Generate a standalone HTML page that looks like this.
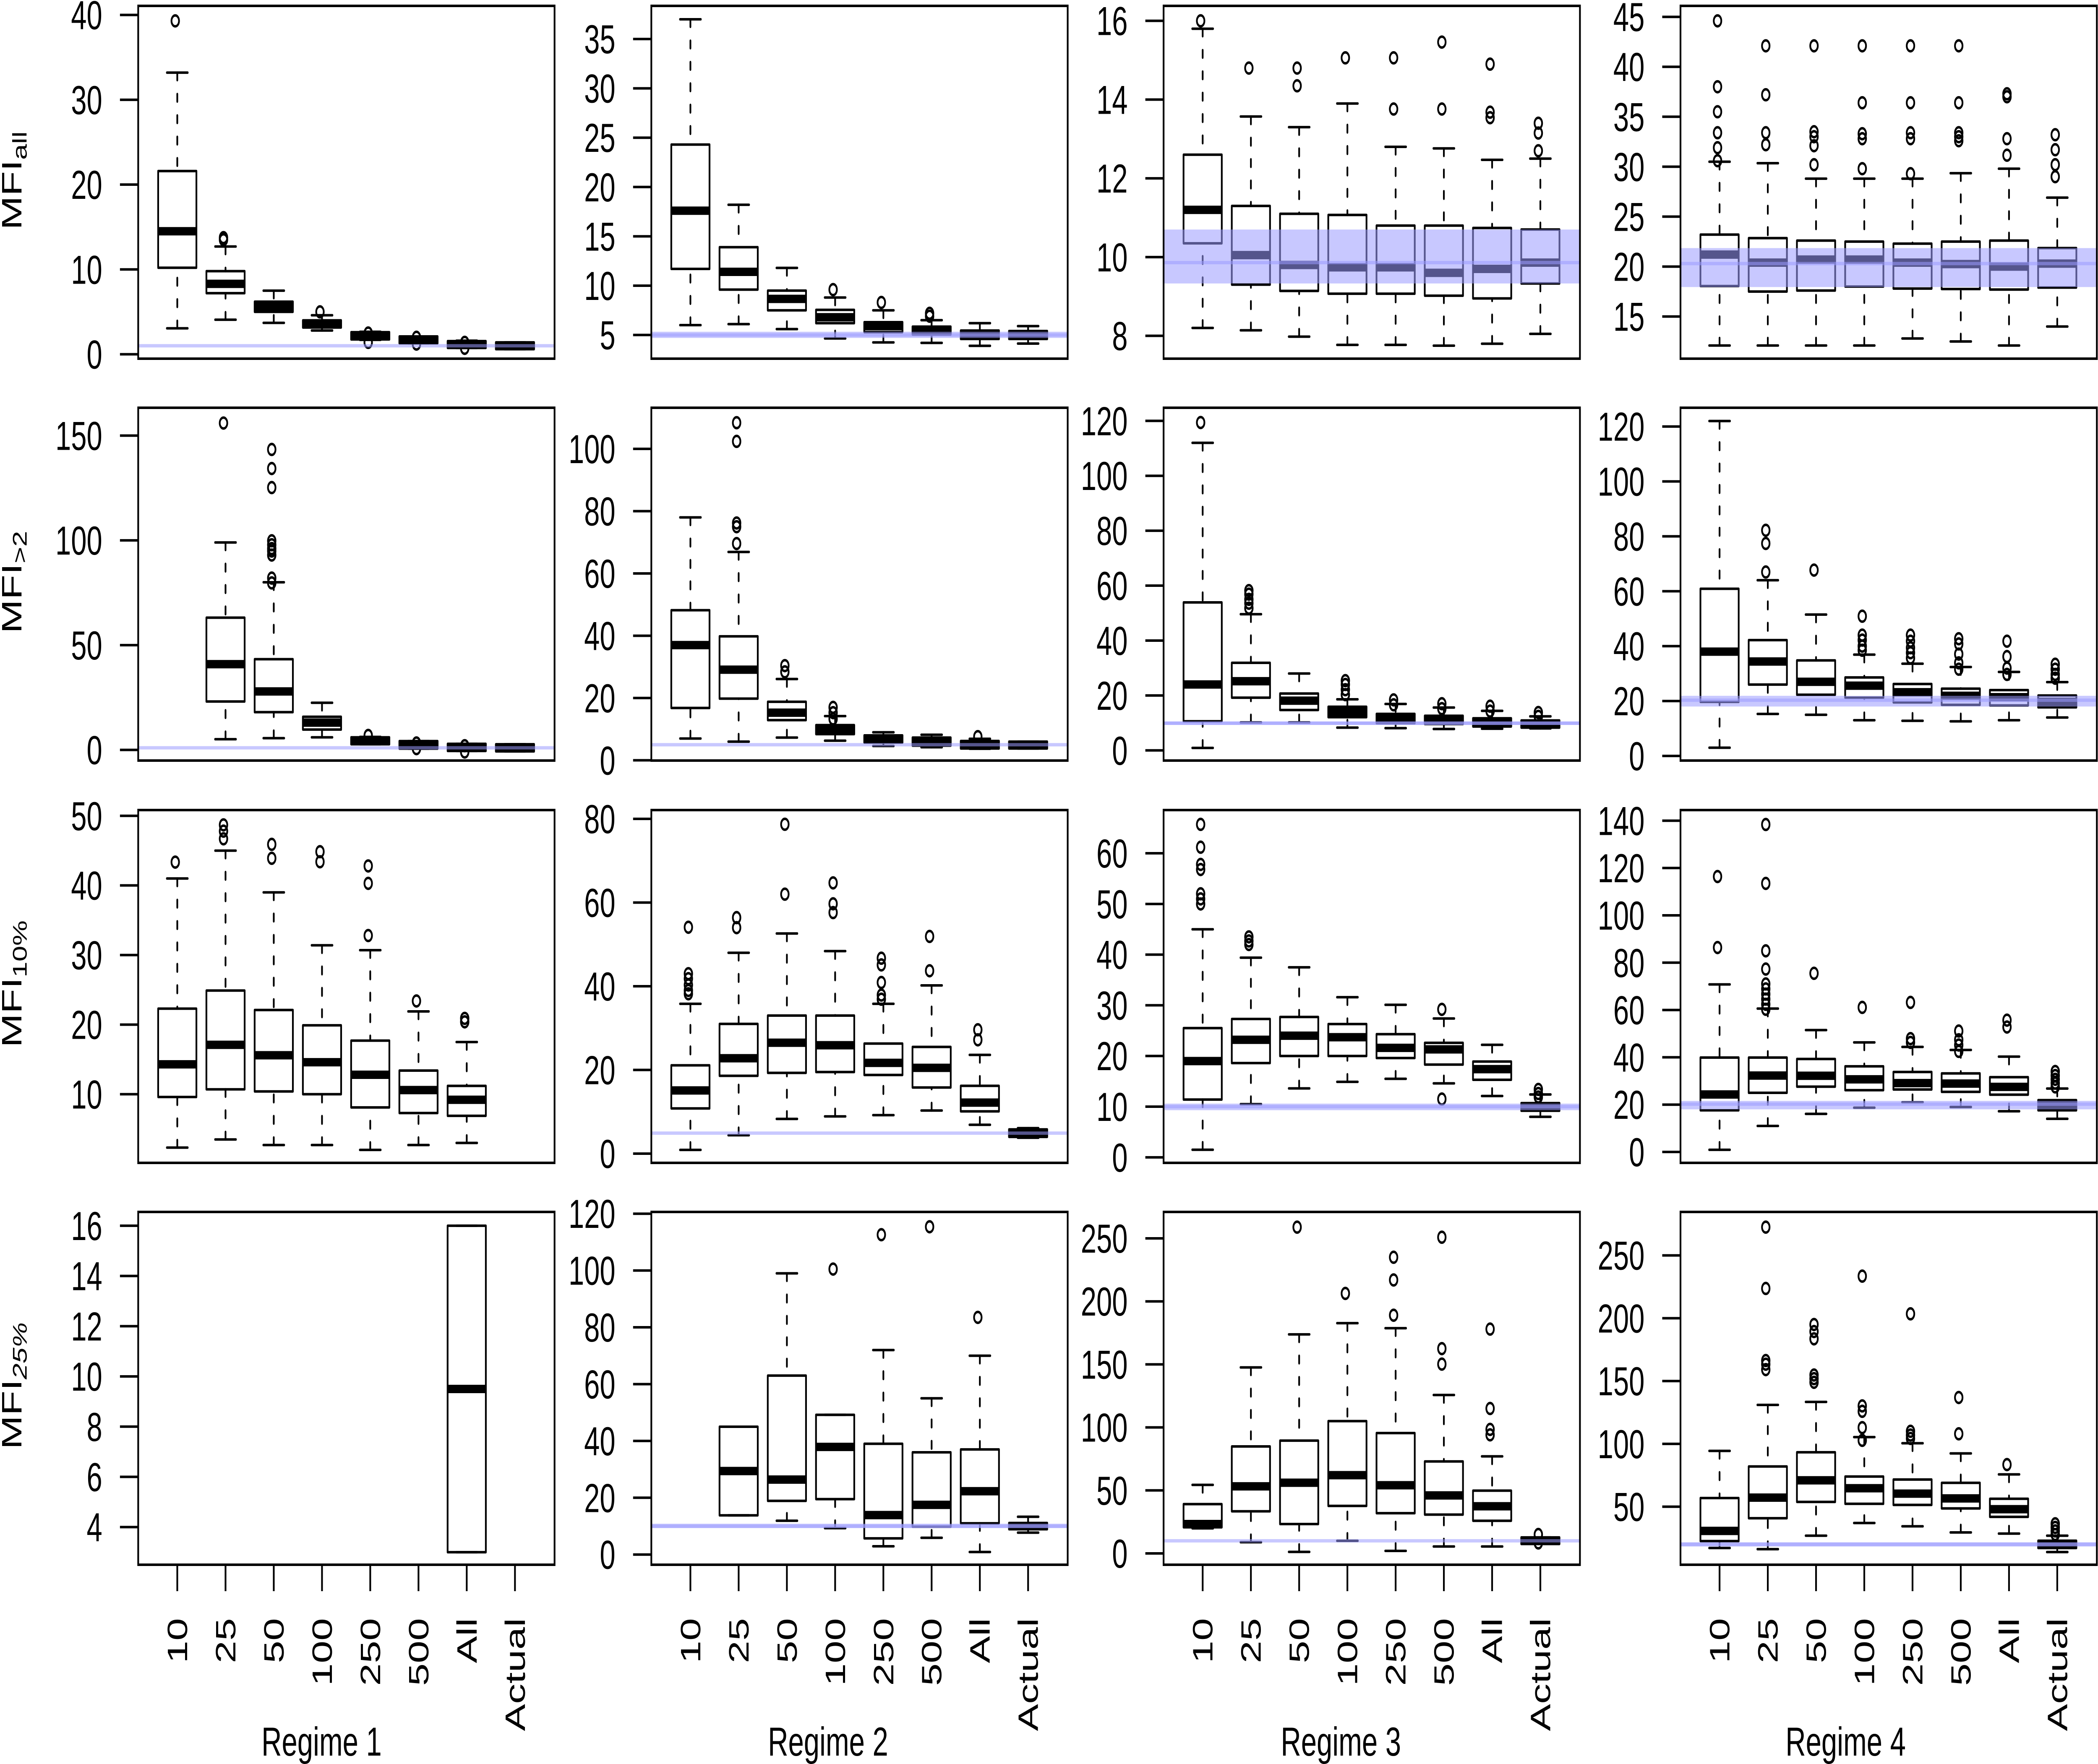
<!DOCTYPE html>
<html lang="en">
<head>
<meta charset="utf-8">
<title>MFI box plots by regime</title>
<style>
html,body{margin:0;padding:0;background:#fff;width:100%;height:100%;overflow:hidden}
svg{display:block;width:100vw;height:100vh}
text{font-family:"Liberation Sans",sans-serif;fill:#000}
</style>
</head>
<body>
<svg id="chart" xmlns="http://www.w3.org/2000/svg" viewBox="0 0 7241 4205" preserveAspectRatio="none"></svg>
<script>
// Shared categories
const categories = ['10','25','50','100','250','500','All','Actual'];
const regimes = ['Regime 1','Regime 2','Regime 3','Regime 4'];

// Each stats entry: [lower whisker, Q1, median, Q3, upper whisker]; null = no box.
// *Actual: [reference value, band low, band high]; *Domain: [axis value at bottom, at top].

// MFI all
const allR1Domain = [-0.52, 41.07];
const allR1Ticks = [0,10,20,30,40];
const allR1Actual = [1,1,1];
const allR1Stats = [[3.06,10.2,14.5,21.6,33.2],[4.07,7.2,8.3,9.8,12.7],[3.7,5,5.6,6.2,7.5],[2.8,3.15,3.55,4,4.6],[1.7,1.75,2.2,2.6,2.65],[1.3,1.3,1.7,2.1,2.1],[0.75,0.75,1.15,1.55,1.6],[0.6,0.6,1,1.4,1.4]];
const allR1Outliers = [[39.3],[13.5,13.75],[],[5],[2.5,1.4],[2,1.2],[0.7,1.4],[]];

const allR2Domain = [2.6, 38.36];
const allR2Ticks = [5,10,15,20,25,30,35];
const allR2Actual = [5,4.7,5.33];
const allR2Stats = [[6,11.7,17.6,24.3,37],[6.1,9.6,11.4,13.9,18.2],[5.6,7.5,8.66,9.5,11.8],[4.65,6.2,6.8,7.55,8.8],[4.25,5.3,5.9,6.3,7.5],[4.2,5.05,5.45,5.85,6.5],[3.9,4.6,5.05,5.45,6.2],[4.13,4.6,5,5.4,5.9]];
const allR2Outliers = [[],[],[],[9.6],[8.3],[6.9,7.2],[],[]];

const allR3Domain = [7.42, 16.38];
const allR3Ticks = [8,10,12,14,16];
const allR3Actual = [9.86,9.33,10.7];
const allR3Stats = [[8.2,10.35,11.2,12.6,15.8],[8.14,9.3,10.05,11.3,13.57],[7.98,9.14,9.8,11.1,13.3],[7.77,9.07,9.74,11.07,13.9],[7.77,9.07,9.74,10.8,12.8],[7.75,9.02,9.6,10.8,12.76],[7.8,8.95,9.7,10.74,12.47],[8.05,9.33,9.86,10.7,12.5]];
const allR3Outliers = [[16],[14.8],[14.8,14.35],[15.06],[15.06,13.76],[15.46,13.76],[14.9,13.68,13.54],[13.4,13.15,12.7]];

const allR4Domain = [10.78, 46.1];
const allR4Ticks = [15,20,25,30,35,40,45];
const allR4Actual = [20.3,17.95,21.85];
const allR4Stats = [[12.1,18.05,21.2,23.2,30.5],[12.1,17.5,20.4,22.85,30.35],[12.1,17.6,20.7,22.6,28.8],[12.1,18,20.7,22.5,28.8],[12.8,17.8,20.4,22.3,28.8],[12.5,17.75,20.25,22.5,29.35],[12.1,17.7,20,22.6,29.8],[14,17.9,20.3,21.85,26.9]];
const allR4Outliers = [[44.6,38,35.5,33.4,31.9,30.6],[42.1,37.2,33.4,32.2],[42.1,33.5,33,32.1,30.2],[42.1,36.4,33.3,32.8,29.8],[42.1,36.4,33.4,32.8,29.3],[42.1,36.4,33.4,33,32.6],[37.3,37,32.8,31.15],[33.2,31.7,30.2,29]];

// MFI >2
const gt2R1Domain = [-5.09, 163.3];
const gt2R1Ticks = [0,50,100,150];
const gt2R1Actual = [1,1,1];
const gt2R1Stats = [null,[5.1,23.1,40.9,63.1,99],[5.6,18,27.9,43.3,80],[6,9.7,13,15.8,22.5],[2.7,2.7,4.4,6,6.2],[0.6,0.6,2.4,4.2,4.2],[-0.5,-0.5,1.2,2.9,2.9],[-0.7,-0.7,1,2.7,2.7]];
const gt2R1Outliers = [[],[156],[143.4,134.3,125.2,99.8,97.9,96.1,94.9,93,82,79.7],[],[6.9],[3.3,0.6],[2,-1],[]];

const gt2R2Domain = [-0.08, 113.2];
const gt2R2Ticks = [0,20,40,60,80,100];
const gt2R2Actual = [5,5,5];
const gt2R2Stats = [[7,16.8,37,48.2,78],[6,19.8,29.1,39.8,66.9],[7.3,12.9,15.3,18.8,26.1],[6.3,8.4,9.9,11.3,14.2],[4.6,5.7,6.9,8,9],[4.2,4.7,6.1,7.3,8.2],[3.7,3.8,5,6.2,6.9],[3.8,3.8,5,6,6]];
const gt2R2Outliers = [[],[108.4,102.4,75,76.2,69.6],[30.4,28.4],[17,15.3,13.3],[],[],[7.6],[]];

const gt2R3Domain = [-3.7, 124.78];
const gt2R3Ticks = [0,20,40,60,80,100,120];
const gt2R3Actual = [9.9,9.26,10.55];
const gt2R3Stats = [[0.9,10.6,24,53.9,112],[10.2,19.2,25.2,31.9,49.6],[10.2,14.7,18.1,20.7,28],[8.3,12.1,14,15.9,18.6],[8.1,9.9,11.7,13.3,16.9],[7.8,9.6,11.1,12.6,15.6],[7.9,8.7,10.1,11.7,14.4],[8,8.3,9.6,10.9,12.4]];
const gt2R3Outliers = [[119.4],[58.2,56.9,55,53.6,51.8],[],[25.4,24,22.1,20.3],[18.4,16.6],[17,15.2],[16.1,14.3],[13.8,12.4]];

const gt2R4Domain = [-1.68, 126.83];
const gt2R4Ticks = [0,20,40,60,80,100,120];
const gt2R4Actual = [20.3,18,21.9];
const gt2R4Stats = [[3,19.7,38,60.9,122],[15.3,26,34.4,42.2,64],[15,22.3,27,34.8,51.5],[13,21.2,25.6,28.6,36.9],[12.8,19.5,23.2,26.2,33.6],[12.6,18.6,21.9,24.5,32.4],[13,18.4,21.4,24,30.6],[14,17.7,19.7,22,26.9]];
const gt2R4Outliers = [[],[82.2,77.4,67],[67.7],[50.9,44,42.2,40,38.5],[44,41.8,39.4,37.6,35.7],[42.7,40.8,37.1,33.9,31.6],[41.8,36.2,32,29.7],[33.4,31.6,29.7,28.3]];

// MFI 10%
const p10R1Domain = [0.14, 50.83];
const p10R1Ticks = [10,20,30,40,50];
const p10R1Actual = null;
const p10R1Stats = [[2.33,9.6,14.3,22.3,41],[3.5,10.7,17.1,24.9,45],[2.7,10.4,15.6,22.1,39],[2.7,10,14.6,19.9,31.4],[2,8.1,12.8,17.7,30.7],[2.7,7.3,10.6,13.4,21.9],[3,6.9,9.2,11.2,17.5],null];
const p10R1Outliers = [[43.35],[48.7,47.8,46.7],[45.9,43.9],[44.85,43.4],[42.8,40.3,32.8],[23.4],[20.9,20.4],[]];

const p10R2Domain = [-2.2, 82.1];
const p10R2Ticks = [0,20,40,60,80];
const p10R2Actual = [4.9,4.9,4.9];
const p10R2Stats = [[0.9,10.8,15.1,21.1,35.8],[4.4,18.6,22.8,31,48],[8.3,19.3,26.5,33,52.6],[8.9,19.5,25.9,33,48.4],[9.2,18.8,21.7,26.3,35.8],[10.3,15.8,20.5,25.5,40.2],[6.9,10.1,12.2,16.2,23.6],[3.8,4,4.9,5.8,6.1]];
const p10R2Outliers = [[54.1,43,41.8,40.3,39,38.2],[56.4,54],[78.7,62],[64.7,59.7,57.6],[46.7,45.1,40.9,37.9,36.9],[51.9,43.7],[29.6,27.2],[]];

const p10R3Domain = [-1.09, 68.53];
const p10R3Ticks = [0,10,20,30,40,50,60];
const p10R3Actual = [10,9.3,10.6];
const p10R3Stats = [[1.5,11.4,19,25.5,45],[10.5,18.6,23.2,27.3,39.4],[13.6,20,24,27.7,37.5],[14.9,20,23.7,26.3,31.6],[15.5,19.6,21.6,24.3,30.1],[14.6,18.3,21.3,22.6,27.4],[12.1,15.3,17.4,18.9,22.2],[8,9.2,9.9,10.7,12.4]];
const p10R3Outliers = [[65.7,61.2,57.8,56.8,52,51,50],[43.5,42.7,42],[],[],[],[29.2,11.5],[],[13.4,12.6,11.9]];

const p10R4Domain = [-4.61, 144.5];
const p10R4Ticks = [0,20,40,60,80,100,120,140];
const p10R4Actual = [20.2,18,21.6];
const p10R4Stats = [[0.9,17.6,24.3,39.9,70.8],[11,25,32.3,39.9,60.6],[16.1,27.6,32.2,39.3,51.5],[18.7,26.1,30.7,36.2,46.3],[21,26.4,29.1,33.8,44.4],[19,25.4,28.9,33.2,43.1],[17.2,24.2,27.5,31.6,40.3],[14,17.6,19.8,21.9,26.8]];
const p10R4Outliers = [[116.4,86.4],[138.4,113.5,85,77.3,71,68.9,66.7,64.6,62.4,60.3],[75.5],[61.1],[63.2,47.9,46.3],[51.1,47.4,45.2,42.5],[55.7,52.8],[34,32.3,30.7,29.1,27.5]];

// MFI 25%
const p25R1Domain = [2.5, 16.55];
const p25R1Ticks = [4,6,8,10,12,14,16];
const p25R1Actual = null;
const p25R1Stats = [null,null,null,null,null,null,[3,3,9.5,16,16],null];
const p25R1Outliers = [[],[],[],[],[],[],[],[]];

const p25R2Domain = [-3.59, 120.62];
const p25R2Ticks = [0,20,40,60,80,100,120];
const p25R2Actual = [10,9.3,10.85];
const p25R2Stats = [null,[13.8,13.8,29.4,45,45],[11.9,18.9,26.4,63,99],[9.3,19.5,37.9,49.2,49.2],[2.9,5.7,13.9,39,72],[5.9,9.8,17.5,36,55],[0.9,11,22.3,37,70],[7.7,8.9,10,11.1,13.3]];
const p25R2Outliers = [[],[],[],[100.5],[112.6],[115.4],[83.5],[]];

const p25R3Domain = [-8.99, 270.97];
const p25R3Ticks = [0,50,100,150,200,250];
const p25R3Actual = [10,10,10];
const p25R3Stats = [[19.9,20.7,23.3,39.1,54.4],[8.9,33.4,53.2,84.9,147.6],[1.2,23.3,56.1,89.5,173.8],[10,37.7,62.1,105,182.7],[2,31.9,54.1,95.5,178.7],[5.5,30.8,46,73,125.7],[5.5,25.9,37.4,49.8,77],[7.5,7.5,10,12.7,12.7]];
const p25R3Outliers = [[],[],[258.9],[206.3],[235,217,189],[250.9,162.5,150.2],[178,115,98.4,94.1],[15,8.3]];

const p25R4Domain = [3.79, 284.6];
const p25R4Ticks = [50,100,150,200,250];
const p25R4Actual = [20,18.3,21.7];
const p25R4Stats = [[17.1,22.6,30.7,56.9,94.4],[16.2,40.8,57.2,82,131],[26.9,53.8,71,93.3,133.4],[37,52.3,64.7,74,105.4],[34.4,51.4,60.4,71.6,100.5],[29.5,48.6,56.6,69,92.4],[28.6,41.9,48,56.3,75.7],[13.9,17.1,20,22.9,26.9]];
const p25R4Outliers = [[],[272.5,223.7,166.3,163.4,159.1],[195,189.4,183.6,154.8,151.9,149],[233.5,130.2,125.9,112.9,102.8],[203.5,110,107,104.3],[136.9,108],[83.5],[36.4,33.5,30.7,27.8]];

const rowsOfPanels = [
  [[allR1Domain,allR1Ticks,allR1Actual,allR1Stats,allR1Outliers],[allR2Domain,allR2Ticks,allR2Actual,allR2Stats,allR2Outliers],[allR3Domain,allR3Ticks,allR3Actual,allR3Stats,allR3Outliers],[allR4Domain,allR4Ticks,allR4Actual,allR4Stats,allR4Outliers]],
  [[gt2R1Domain,gt2R1Ticks,gt2R1Actual,gt2R1Stats,gt2R1Outliers],[gt2R2Domain,gt2R2Ticks,gt2R2Actual,gt2R2Stats,gt2R2Outliers],[gt2R3Domain,gt2R3Ticks,gt2R3Actual,gt2R3Stats,gt2R3Outliers],[gt2R4Domain,gt2R4Ticks,gt2R4Actual,gt2R4Stats,gt2R4Outliers]],
  [[p10R1Domain,p10R1Ticks,p10R1Actual,p10R1Stats,p10R1Outliers],[p10R2Domain,p10R2Ticks,p10R2Actual,p10R2Stats,p10R2Outliers],[p10R3Domain,p10R3Ticks,p10R3Actual,p10R3Stats,p10R3Outliers],[p10R4Domain,p10R4Ticks,p10R4Actual,p10R4Stats,p10R4Outliers]],
  [[p25R1Domain,p25R1Ticks,p25R1Actual,p25R1Stats,p25R1Outliers],[p25R2Domain,p25R2Ticks,p25R2Actual,p25R2Stats,p25R2Outliers],[p25R3Domain,p25R3Ticks,p25R3Actual,p25R3Stats,p25R3Outliers],[p25R4Domain,p25R4Ticks,p25R4Actual,p25R4Stats,p25R4Outliers]]
];
const metricSubscripts = ['all','>2','10%','25%'];

// Layout
const svg = document.getElementById('chart');
const NS = 'http://www.w3.org/2000/svg';
const colLeft = [477,2248,4016,5800];
const rowTop = [14,972,1931,2889];
const panelW = 1437, panelH = 841;
const slot = 166.5, firstSlot = 0.81, boxW = 132, capW = 72;
const lw = 6, tickLen = 63, fontSize = 97;
const titleBottom = [548,1510,2497,3455];
const regimeCenter = [1110,2858,4628,6370];

function make(parent, tag, attrs) {
  const el = document.createElementNS(NS, tag);
  for (const k in attrs) el.setAttribute(k, attrs[k]);
  parent.appendChild(el);
  return el;
}
function seg(parent, x1, y1, x2, y2, extra) {
  return make(parent, 'line', Object.assign({x1:x1,y1:y1,x2:x2,y2:y2,stroke:'#000','stroke-width':lw,'stroke-linecap':'round'}, extra||{}));
}

rowsOfPanels.forEach(function (row, r) {
  const title = make(svg, 'text', {transform:'translate(74,'+titleBottom[r]+') rotate(-90)','font-size':fontSize});
  
  
  title.appendChild(document.createTextNode('MFI'));
  const sub = make(title, 'tspan', {dy:18,'font-size':68});
  if (r === 3) sub.setAttribute('font-style', 'italic');
  sub.textContent = metricSubscripts[r];

  row.forEach(function (panel, c) {
    const domain = panel[0], ticks = panel[1], actual = panel[2], stats = panel[3], outliers = panel[4];
    const left = colLeft[c], top = rowTop[r];
    const y = function (v) { return top + (domain[1] - v) / (domain[1] - domain[0]) * panelH; };
    const x = function (i) { return left + (firstSlot + i) * slot; };

    const g = make(svg, 'g', {});
    
    

    ticks.forEach(function (t) {
      const tick = seg(g, left - tickLen, y(t), left, y(t), {'stroke-linecap':'butt'});
      
      
      const lab = make(g, 'text', {x:left - 124, y:y(t) + 34, 'text-anchor':'end', 'font-size':fontSize});
      
      
      lab.textContent = t;
    });

    stats.forEach(function (s, i) {
      const cx = x(i);
      const bg = make(g, 'g', {});
      
      
      if (s) {
        const lo = s[0], q1 = s[1], med = s[2], q3 = s[3], hi = s[4];
        if (hi > q3) {
          const w1 = seg(bg, cx, y(hi), cx, y(q3), {'stroke-dasharray':'18 33'});
          
          
        }
        if (lo < q1) {
          const w2 = seg(bg, cx, y(lo), cx, y(q1), {'stroke-dasharray':'18 33'});
          
          
        }
        const s1 = seg(bg, cx - capW / 2, y(hi), cx + capW / 2, y(hi));
        
        
        const s2 = seg(bg, cx - capW / 2, y(lo), cx + capW / 2, y(lo));
        
        
        const rect = make(bg, 'rect', {x:cx - boxW / 2, y:y(q3), width:boxW, height:y(q1) - y(q3), fill:'none', stroke:'#000', 'stroke-width':lw, 'stroke-linejoin':'round'});
        
        
        const m = make(bg, 'line', {x1:cx - boxW / 2, y1:y(med), x2:cx + boxW / 2, y2:y(med), stroke:'#000', 'stroke-width':20});
        
        
      }
      outliers[i].forEach(function (v) {
        const o = make(bg, 'circle', {cx:cx - 7, cy:y(v), r:13, fill:'none', stroke:'#000', 'stroke-width':lw});
        
        
      });
    });

    if (actual) {
      const yHi = y(actual[2]), yLo = y(actual[1]);
      if (yLo - yHi > 0.5) {
        const band = make(g, 'rect', {x:left, y:yHi, width:panelW, height:yLo - yHi, fill:'rgb(154,154,255)', 'fill-opacity':0.55});
        
        
      }
      const line = make(g, 'rect', {x:left, y:y(actual[0]) - 4, width:panelW, height:8, fill:'rgb(154,154,255)', 'fill-opacity':0.55});
      
      
    }

    const frame = make(g, 'rect', {x:left, y:top, width:panelW, height:panelH, fill:'none', stroke:'#000', 'stroke-width':lw});
    
    

    if (r === rowsOfPanels.length - 1) {
      categories.forEach(function (cat, i) {
        const bt = top + panelH;
        const xt = seg(g, x(i), bt, x(i), bt + tickLen, {'stroke-linecap':'butt'});
        
        
        const xl = make(g, 'text', {transform:'translate(' + (x(i) + 34) + ',3857) rotate(-90)', 'text-anchor':'end', 'font-size':fontSize});
        
        
        xl.textContent = cat;
      });
      const reg = make(g, 'text', {x:regimeCenter[c], y:4185, 'text-anchor':'middle', 'font-size':fontSize});
      
      
      reg.textContent = regimes[c];
    }
  });
});
</script>
</body>
</html>
